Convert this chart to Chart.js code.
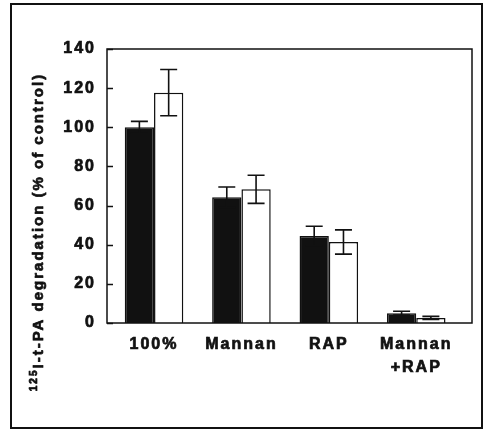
<!DOCTYPE html>
<html>
<head>
<meta charset="utf-8">
<script src="https://cdn.jsdelivr.net/npm/chart.js@4/dist/chart.umd.min.js"></script>
<style>
  html, body { margin: 0; padding: 0; background: #fff; }
  canvas { display: block; }
</style>
</head>
<body>
<canvas id="c" width="485" height="430"></canvas>
<script>
// Treatment groups along the x axis
const categories = ['100%', 'Mannan', 'RAP', ['Mannan', '+RAP']];
// 125I-t-PA degradation, % of control (filled bars)
const blackValues = [100, 64.3, 44.4, 5];
const blackErrors = [3, 5.2, 5, 1];
// 125I-t-PA degradation, % of control (open bars)
const whiteValues = [117.7, 68.3, 41.4, 2.6];
const whiteErrors = [11.8, 7.2, 6.2, 0.8];
// y axis tick values
const yTicks = [0, 20, 40, 60, 80, 100, 120, 140];

const INK = '#111111';
const FONT = '"Liberation Sans", Arial, Helvetica, sans-serif';
const STROKE = 0.7; // extra weight on the lettering

const errorsByDataset = [blackErrors, whiteErrors];

// Spaced lettering for all chart text
const letterSpacingPlugin = {
  id: 'letterSpacing',
  beforeDraw(chart) { chart.ctx.letterSpacing = '2px'; }
};

// Outer frame, plot box and inward ticks on the value axis
const framePlugin = {
  id: 'frame',
  afterDraw(chart) {
    const { ctx, chartArea: a, scales } = chart;
    ctx.save();
    ctx.strokeStyle = INK;
    ctx.lineWidth = 2;
    ctx.strokeRect(11, 4, 471, 424);
    ctx.lineWidth = 1.5;
    ctx.strokeRect(a.left, a.top, a.right - a.left, a.bottom - a.top);
    ctx.beginPath();
    yTicks.forEach(v => {
      const y = Math.round(scales.y.getPixelForValue(v)) + 0.5;
      ctx.moveTo(a.left, y);
      ctx.lineTo(a.left + 6, y);
    });
    ctx.stroke();
    ctx.restore();
  }
};

// Error bars (mean ± SD) drawn over each bar
const errorBarPlugin = {
  id: 'errorBars',
  afterDatasetsDraw(chart) {
    const { ctx, scales } = chart;
    ctx.save();
    ctx.strokeStyle = INK;
    ctx.lineWidth = 1.6;
    chart.data.datasets.forEach((ds, di) => {
      const meta = chart.getDatasetMeta(di);
      const errs = errorsByDataset[di];
      meta.data.forEach((bar, i) => {
        const v = ds.data[i].y;
        const e = errs[i];
        const yTop = scales.y.getPixelForValue(v + e);
        const yBot = scales.y.getPixelForValue(Math.max(0, v - e));
        const x = bar.x;
        const half = 8.5;
        ctx.beginPath();
        ctx.moveTo(x, yTop); ctx.lineTo(x, yBot);
        ctx.moveTo(x - half, yTop); ctx.lineTo(x + half, yTop);
        ctx.moveTo(x - half, yBot); ctx.lineTo(x + half, yBot);
        ctx.stroke();
      });
    });
    ctx.restore();
  }
};

// Rotated y-axis title with superscript isotope number
const yTitlePlugin = {
  id: 'yTitle',
  afterDraw(chart) {
    const ctx = chart.ctx;
    const sup = '125';
    const main = 'I-t-PA degradation (% of control)';
    ctx.save();
    ctx.letterSpacing = '2px';
    ctx.fillStyle = INK;
    ctx.strokeStyle = INK;
    ctx.lineWidth = STROKE;
    ctx.lineJoin = 'round';
    ctx.textBaseline = 'alphabetic';
    ctx.textAlign = 'left';
    ctx.font = 'bold 10px ' + FONT;
    const wSup = ctx.measureText(sup).width;
    ctx.font = 'bold 15px ' + FONT;
    const wMain = ctx.measureText(main).width;
    const total = wSup + wMain;
    ctx.translate(37.5, 232);
    ctx.rotate(-Math.PI / 2);
    let x = -total / 2;
    ctx.font = 'bold 10px ' + FONT;
    ctx.fillText(sup, x, -1);
    ctx.strokeText(sup, x, -1);
    x += wSup;
    ctx.font = 'bold 15px ' + FONT;
    ctx.fillText(main, x, 5.5);
    ctx.strokeText(main, x, 5.5);
    ctx.restore();
  }
};

const toPoints = vals => vals.map((v, i) => ({ x: i, y: v }));

new Chart(document.getElementById('c'), {
  type: 'bar',
  data: {
    datasets: [
      {
        data: toPoints(blackValues),
        backgroundColor: INK,
        borderColor: INK,
        borderWidth: 1.5,
        categoryPercentage: 0.67,
        barPercentage: 1
      },
      {
        data: toPoints(whiteValues),
        backgroundColor: '#ffffff',
        borderColor: INK,
        borderWidth: 1.5,
        categoryPercentage: 0.67,
        barPercentage: 1
      }
    ]
  },
  options: {
    responsive: false,
    animation: false,
    events: [],
    layout: { padding: { left: 0, top: 49, right: 13, bottom: 0 } },
    plugins: {
      legend: { display: false },
      tooltip: { enabled: false },
      title: { display: false }
    },
    scales: {
      x: {
        type: 'linear',
        min: -0.538,
        max: 3.638,
        offset: false,
        grid: { display: false, drawTicks: false },
        border: { display: false },
        afterBuildTicks: scale => { scale.ticks = categories.map((c, i) => ({ value: i })); },
        afterFit: scale => { scale.height = 107; },
        ticks: {
          autoSkip: false,
          maxRotation: 0,
          padding: 10,
          color: INK,
          textStrokeColor: INK,
          textStrokeWidth: STROKE,
          font: { family: FONT, size: 16, weight: 'bold', lineHeight: 1.45 },
          callback: v => categories[v]
        }
      },
      y: {
        min: 0,
        max: 140,
        grid: { display: false, drawTicks: false },
        border: { display: false },
        afterBuildTicks: scale => { scale.ticks = yTicks.map(v => ({ value: v })); },
        afterFit: scale => { scale.width = 107; },
        ticks: {
          padding: 11,
          color: INK,
          textStrokeColor: INK,
          textStrokeWidth: STROKE,
          font: { family: FONT, size: 16, weight: 'bold' }
        }
      }
    }
  },
  plugins: [letterSpacingPlugin, errorBarPlugin, framePlugin, yTitlePlugin]
});
</script>
</body>
</html>
